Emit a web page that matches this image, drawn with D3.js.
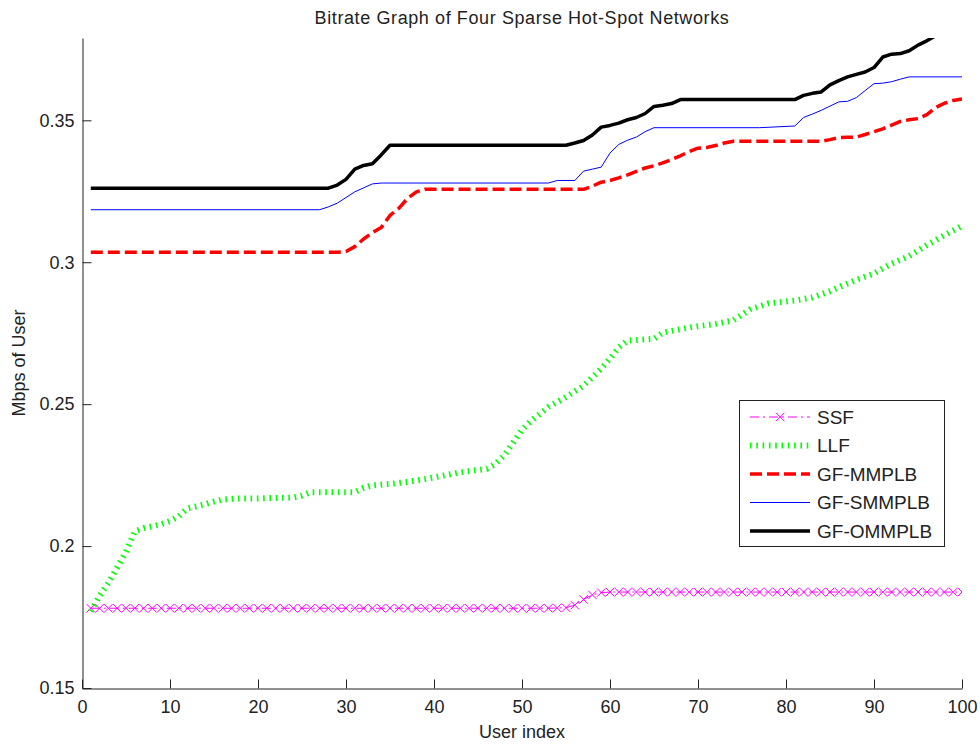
<!DOCTYPE html>
<html>
<head>
<meta charset="utf-8">
<script src="https://cdn.jsdelivr.net/npm/d3@7"></script>
<style>
    body { margin: 0; background: #fff; }
    svg { display: block; font-family: "Liberation Sans", Arial, sans-serif; }
</style>
</head>
<body>
<div id="chart"></div>
<script>
// users 1..100, SSF is read per user (markers sit on every user)
const ssfRate = [
    0.1781, 0.1781, 0.1781, 0.1781, 0.1781, 0.1781, 0.1781, 0.1781, 0.1781, 0.1781,
    0.1781, 0.1781, 0.1781, 0.1781, 0.1781, 0.1781, 0.1781, 0.1781, 0.1781, 0.1781,
    0.1781, 0.1781, 0.1781, 0.1781, 0.1781, 0.1781, 0.1781, 0.1781, 0.1781, 0.1781,
    0.1781, 0.1781, 0.1781, 0.1781, 0.1781, 0.1781, 0.1781, 0.1781, 0.1781, 0.1781,
    0.1781, 0.1781, 0.1781, 0.1781, 0.1781, 0.1781, 0.1781, 0.1781, 0.1781, 0.1781,
    0.1781, 0.1781, 0.1781, 0.1782, 0.1783, 0.1792, 0.1812, 0.1828, 0.1836, 0.1838,
    0.1838, 0.1838, 0.1838, 0.1838, 0.1838, 0.1838, 0.1838, 0.1838, 0.1838, 0.1838,
    0.1838, 0.1838, 0.1838, 0.1838, 0.1838, 0.1838, 0.1838, 0.1838, 0.1838, 0.1838,
    0.1838, 0.1838, 0.1838, 0.1838, 0.1838, 0.1838, 0.1838, 0.1838, 0.1838, 0.1838,
    0.1838, 0.1838, 0.1838, 0.1838, 0.1838, 0.1838, 0.1838, 0.1838, 0.1838, 0.1838
];

const llfUsers = [1, 2, 3, 4, 5, 6, 7, 8, 9, 10, 11, 12, 13, 14, 15, 16, 17, 18, 20, 24, 25, 26, 31, 32, 33, 35, 37, 39, 41, 43, 46, 47, 48, 49, 50, 51, 52, 53, 55, 57, 59, 60, 61, 62, 65, 66, 69, 72, 74, 75, 76, 78, 81, 83, 85, 86, 88, 90, 91, 92, 94, 96, 98, 100];
const llfRate = [0.177, 0.1825, 0.187, 0.1925, 0.198, 0.2052, 0.2063, 0.207, 0.2077, 0.2088, 0.2105, 0.2133, 0.214, 0.2148, 0.2157, 0.2164, 0.2166, 0.2168, 0.2168, 0.2171, 0.2178, 0.219, 0.219, 0.2205, 0.2214, 0.2219, 0.2226, 0.2236, 0.2248, 0.226, 0.2272, 0.229, 0.232, 0.2365, 0.241, 0.244, 0.2465, 0.249, 0.2525, 0.2565, 0.2625, 0.266, 0.27, 0.2724, 0.273, 0.2752, 0.277, 0.2783, 0.2795, 0.2815, 0.2835, 0.2855, 0.2865, 0.2876, 0.2898, 0.2912, 0.2938, 0.296, 0.2978, 0.2995, 0.3022, 0.306, 0.3095, 0.3128];

const mmplbUsers = [1, 29, 30, 31, 32, 33, 34, 35, 36, 37, 38, 39, 57, 58, 59, 60, 61, 62, 63, 64, 65, 66, 67, 68, 69, 70, 71, 72, 73, 74, 84, 85, 86, 87, 88, 89, 90, 91, 92, 93, 94, 95, 96, 97, 98, 99, 100];
const mmplbRate = [0.3035, 0.3035, 0.3038, 0.3055, 0.3082, 0.3104, 0.3122, 0.3165, 0.319, 0.3225, 0.3248, 0.3257, 0.3257, 0.3268, 0.3282, 0.3288, 0.3297, 0.3308, 0.332, 0.3332, 0.334, 0.335, 0.3362, 0.3375, 0.339, 0.3402, 0.3404, 0.3411, 0.342, 0.3426, 0.3426, 0.3432, 0.3439, 0.344, 0.3441, 0.345, 0.346, 0.347, 0.3483, 0.3496, 0.3502, 0.3506, 0.352, 0.3545, 0.356, 0.357, 0.3575];

const smmplbUsers = [1, 27, 28, 29, 30, 31, 32, 33, 34, 53, 54, 56, 57, 58, 59, 60, 61, 62, 63, 64, 65, 77, 81, 82, 83, 84, 85, 86, 87, 88, 89, 90, 91, 92, 93, 94, 100];
const smmplbRate = [0.3185, 0.3185, 0.3195, 0.3208, 0.3228, 0.3248, 0.3262, 0.3276, 0.3279, 0.3279, 0.3288, 0.3288, 0.3321, 0.3328, 0.3335, 0.3385, 0.3415, 0.343, 0.3441, 0.346, 0.3474, 0.3474, 0.348, 0.351, 0.3522, 0.3535, 0.355, 0.3565, 0.3567, 0.358, 0.3605, 0.3629, 0.3631, 0.3636, 0.3645, 0.3653, 0.3653];

const ommplbUsers = [1, 28, 29, 30, 31, 32, 33, 34, 35, 55, 56, 57, 58, 59, 60, 61, 62, 63, 64, 65, 66, 67, 68, 81, 82, 83, 84, 85, 86, 87, 88, 89, 90, 91, 92, 93, 94, 95, 96, 97, 98, 99, 100];
const ommplbRate = [0.3261, 0.3261, 0.3272, 0.3292, 0.3328, 0.3341, 0.3347, 0.3378, 0.3412, 0.3412, 0.342, 0.3429, 0.3448, 0.3476, 0.3482, 0.349, 0.3502, 0.351, 0.3524, 0.3549, 0.3553, 0.3559, 0.3573, 0.3573, 0.3588, 0.3595, 0.36, 0.3625, 0.364, 0.3653, 0.3662, 0.367, 0.3686, 0.3723, 0.3733, 0.3735, 0.3745, 0.3765, 0.378, 0.3798, 0.3815, 0.383, 0.384];

const seriesNames = ['SSF', 'LLF', 'GF-MMPLB', 'GF-SMMPLB', 'GF-OMMPLB'];
const xTicks = [0, 10, 20, 30, 40, 50, 60, 70, 80, 90, 100];
const yTicks = [0.15, 0.2, 0.25, 0.3, 0.35];

const zip = (xs, ys) => xs.map((x, i) => ({x, y: ys[i]}));

const series = [
    {name: seriesNames[0], data: ssfRate.map((y, i) => ({x: i + 1, y})),
        stroke: '#ff00ff', width: 1, dash: '9,4,2,4', marker: true},
    {name: seriesNames[1], data: zip(llfUsers, llfRate),
        stroke: '#00ff00', width: 6, dash: '1.6,4.7'},
    {name: seriesNames[2], data: zip(mmplbUsers, mmplbRate),
        stroke: '#ff0000', width: 3.5, dash: '12,5'},
    {name: seriesNames[3], data: zip(smmplbUsers, smmplbRate),
        stroke: '#0000ff', width: 1, dash: null},
    {name: seriesNames[4], data: zip(ommplbUsers, ommplbRate),
        stroke: '#000000', width: 3.5, dash: null}
];

const width = 980, height = 745;
const plot = {left: 82, right: 962, top: 38, bottom: 688};

const svg = d3.select('#chart').append('svg')
    .attr('width', width)
    .attr('height', height);

const x = d3.scaleLinear().domain([0, 100]).range([plot.left, plot.right]);
const y = d3.scaleLinear().domain([0.15, 0.379]).range([plot.bottom, plot.top]);

svg.append('defs').append('clipPath')
    .attr('id', 'plot-clip')
    .append('rect')
    .attr('x', plot.left)
    .attr('y', plot.top)
    .attr('width', plot.right - plot.left)
    .attr('height', plot.bottom - plot.top);

// title
svg.append('text')
    .attr('x', (plot.left + plot.right) / 2)
    .attr('y', 24)
    .attr('text-anchor', 'middle')
    .attr('font-size', 18)
    .attr('letter-spacing', 0.6)
    .attr('fill', '#222')
    .text('Bitrate Graph of Four Sparse Hot-Spot Networks');

// lines
const line = d3.line()
    .x(d => x(d.x))
    .y(d => y(d.y));

const lines = svg.append('g').attr('clip-path', 'url(#plot-clip)');

series.forEach(s => {
    lines.append('path')
        .attr('d', line(s.data))
        .attr('fill', 'none')
        .attr('stroke', s.stroke)
        .attr('stroke-width', s.width)
        .attr('stroke-dasharray', s.dash)
        .attr('stroke-linejoin', 'round');
    if (s.marker) {
        lines.append('g')
            .selectAll('path')
            .data(s.data)
            .join('path')
            .attr('d', d => {
                const cx = x(d.x), cy = y(d.y), r = 4.2;
                return `M${cx - r},${cy - r}L${cx + r},${cy + r}M${cx - r},${cy + r}L${cx + r},${cy - r}`;
            })
            .attr('stroke', s.stroke)
            .attr('stroke-width', 1)
            .attr('fill', 'none');
    }
});

// axes, ticks point inward like matlab
const xAxis = d3.axisBottom(x)
    .tickValues(xTicks)
    .tickSize(-9)
    .tickSizeOuter(0)
    .tickPadding(12);

const yAxis = d3.axisLeft(y)
    .tickValues(yTicks)
    .tickFormat(d => +d.toFixed(2))
    .tickSize(-9)
    .tickSizeOuter(0)
    .tickPadding(8);

const gx = svg.append('g')
    .attr('transform', `translate(0,${plot.bottom + 0.5})`)
    .call(xAxis);

const gy = svg.append('g')
    .attr('transform', `translate(${plot.left + 0.5},0)`)
    .call(yAxis);

[gx, gy].forEach(g => {
    g.selectAll('.domain').attr('stroke', '#222');
    g.selectAll('.tick line').attr('stroke', '#222');
    g.selectAll('.tick text')
        .attr('font-size', 18)
        .attr('fill', '#222')
        .attr('font-family', '"Liberation Sans", Arial, sans-serif');
});

svg.append('text')
    .attr('x', (plot.left + plot.right) / 2)
    .attr('y', 738)
    .attr('text-anchor', 'middle')
    .attr('font-size', 18)
    .attr('fill', '#222')
    .text('User index');

svg.append('text')
    .attr('transform', `translate(25,${(plot.top + plot.bottom) / 2}) rotate(-90)`)
    .attr('text-anchor', 'middle')
    .attr('font-size', 18)
    .attr('fill', '#222')
    .text('Mbps of User');

// legend
const legend = svg.append('g').attr('transform', 'translate(739,400)');

legend.append('rect')
    .attr('x', 0.5)
    .attr('y', 0.5)
    .attr('width', 205)
    .attr('height', 146)
    .attr('fill', '#fff')
    .attr('stroke', '#222');

series.forEach((s, i) => {
    const row = legend.append('g').attr('transform', `translate(0,${17 + i * 28.5})`);
    row.append('line')
        .attr('x1', 11)
        .attr('x2', 71)
        .attr('stroke', s.stroke)
        .attr('stroke-width', s.width)
        .attr('stroke-dasharray', s.dash);
    if (s.marker) {
        row.append('path')
            .attr('d', 'M37,-4.2L45.4,4.2M37,4.2L45.4,-4.2')
            .attr('stroke', s.stroke)
            .attr('stroke-width', 1);
    }
    row.append('text')
        .attr('x', 78)
        .attr('y', 0)
        .attr('dy', '0.36em')
        .attr('font-size', 19)
        .attr('fill', '#222')
        .text(s.name);
});
</script>
</body>
</html>
